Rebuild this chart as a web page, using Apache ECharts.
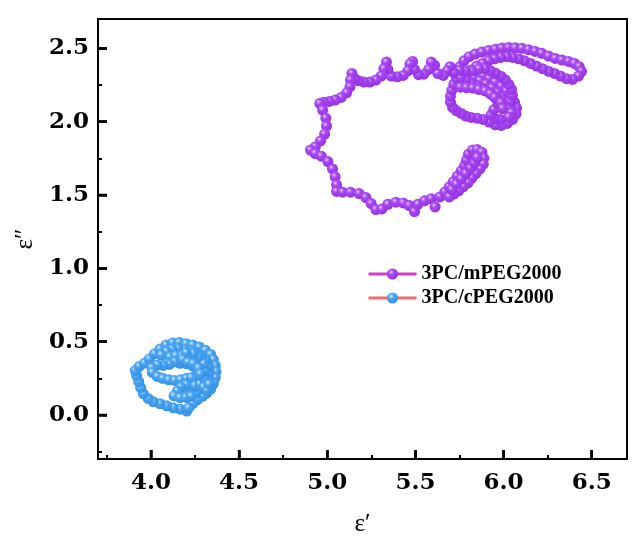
<!DOCTYPE html>
<html><head><meta charset="utf-8">
<script src="https://cdn.jsdelivr.net/npm/echarts@6/dist/echarts.min.js"></script>
<style>html,body{margin:0;padding:0;background:#fff}#c{width:640px;height:547px}</style>
</head><body><div id="c"></div>
<script>
const seriesNames = ['3PC/mPEG2000', '3PC/cPEG2000'];
const xName = 'ε′';
const yName = 'ε″';
const xRange = [3.7, 6.7];
const yRange = [-0.3, 2.7];
const xTicks = [4.0, 4.5, 5.0, 5.5, 6.0, 6.5];
const xMinorTicks = [3.75, 4.25, 4.75, 5.25, 5.75, 6.25];
const yTicks = [0.0, 0.5, 1.0, 1.5, 2.0, 2.5];
const yMinorTicks = [-0.25, 0.25, 0.75, 1.25, 1.75, 2.25];

// [ε′, ε″] for 3PC/mPEG2000
const mPEGPoints = [
[5.752,2.375],[5.775,2.415],[5.805,2.443],[5.839,2.461],[5.877,2.475],[5.915,2.486],[5.953,2.493],[5.990,2.502],[6.028,2.506],[6.066,2.504],
[6.104,2.500],[6.141,2.491],[6.179,2.479],[6.217,2.466],[6.255,2.447],[6.293,2.431],[6.331,2.420],[6.368,2.411],[6.402,2.397],[6.429,2.375],
[6.442,2.343],[6.425,2.311],[6.391,2.288],[6.357,2.293],[6.323,2.311],[6.289,2.329],[6.255,2.343],[6.221,2.361],[6.187,2.379],[6.153,2.397],
[6.119,2.415],[6.085,2.429],[6.051,2.438],[6.017,2.443],[5.983,2.438],[5.949,2.429],[5.915,2.415],[5.881,2.397],[5.847,2.379],
[5.816,2.352],[5.850,2.329],[5.884,2.311],[5.918,2.293],[5.953,2.270],[5.987,2.243],[6.017,2.211],[6.043,2.174],[6.062,2.133],[6.074,2.092],
[6.070,2.051],[6.051,2.015],[6.021,1.988],[5.987,1.974],[5.953,1.979],[5.918,1.997],[5.884,2.015],[5.850,2.024],[5.816,2.029],[5.786,2.038],
[5.760,2.056],[5.733,2.074],[5.711,2.097],[5.699,2.133],[5.699,2.174],[5.707,2.215],[5.718,2.256],[5.733,2.293],
[5.763,2.329],[5.798,2.315],[5.832,2.297],[5.866,2.279],[5.900,2.256],[5.934,2.229],[5.964,2.197],[5.990,2.161],[6.009,2.120],[6.017,2.079],
[6.005,2.038],[5.979,2.015],[5.949,2.020],[5.930,2.047],[5.945,2.083],[5.968,2.120],[5.964,2.156],[5.937,2.183],[5.907,2.206],[5.877,2.229],
[5.847,2.247],[5.816,2.265],[5.786,2.284],[5.756,2.302],
[5.755,2.235],[5.790,2.232],[5.825,2.228],[5.860,2.220],[5.895,2.210],[5.925,2.190],[5.950,2.165],[5.985,2.130],[5.995,2.090],[6.040,2.100],
[6.045,2.060],[6.030,2.030],[6.040,2.140],[6.050,2.180],[6.045,2.220],[6.030,2.255],[6.010,2.285],[5.985,2.310],[5.955,2.330],[5.925,2.348],
[5.895,2.362],[5.860,2.360],[5.820,2.345],[5.785,2.345],[5.750,2.350],
[5.718,2.334],[5.696,2.375],[5.680,2.347],[5.658,2.315],[5.627,2.329],[5.609,2.384],[5.590,2.406],[5.575,2.356],[5.548,2.324],[5.518,2.320],
[5.495,2.356],[5.484,2.411],[5.469,2.393],[5.457,2.347],[5.431,2.315],[5.397,2.306],[5.363,2.311],[5.344,2.356],[5.336,2.406],[5.321,2.361],
[5.306,2.311],[5.276,2.284],[5.242,2.270],[5.208,2.270],[5.178,2.279],[5.155,2.293],[5.140,2.329],[5.132,2.284],[5.129,2.238],[5.110,2.197],
[5.079,2.165],[5.045,2.147],[5.011,2.138],[4.981,2.133],[4.958,2.124],[4.974,2.079],[4.992,2.024],[4.996,1.970],[4.985,1.915],[4.962,1.869],
[4.932,1.828],[4.905,1.806],[4.932,1.783],[4.966,1.765],[5.004,1.728],[5.030,1.678],[5.045,1.624],[5.053,1.569],[5.053,1.524],[5.087,1.519],
[5.132,1.519],[5.181,1.510],[5.219,1.483],[5.249,1.442],[5.276,1.401],[5.310,1.405],[5.344,1.437],[5.389,1.451],[5.431,1.446],[5.465,1.428],
[5.495,1.387],[5.514,1.437],[5.552,1.460],[5.590,1.474],[5.612,1.419],[5.639,1.487],
[5.667,1.521],[5.692,1.556],[5.714,1.590],[5.737,1.628],[5.760,1.665],[5.779,1.701],[5.790,1.738],[5.801,1.778],[5.824,1.806],[5.850,1.810],
[5.877,1.792],[5.888,1.751],[5.885,1.710],[5.866,1.678],[5.843,1.646],[5.820,1.615],[5.798,1.583],[5.771,1.556],[5.745,1.528],[5.718,1.506],
[5.692,1.487],[5.707,1.537],[5.733,1.574],[5.760,1.610],[5.786,1.647],[5.813,1.683],[5.835,1.719],[5.850,1.756]
];

// [ε′, ε″] for 3PC/cPEG2000
const cPEGPoints = [
[4.203,0.027],[4.165,0.040],[4.127,0.049],[4.089,0.063],[4.052,0.077],[4.014,0.090],[3.984,0.113],[3.957,0.145],[3.942,0.186],[3.931,0.227],
[3.919,0.268],[3.912,0.304],[3.934,0.331],[3.965,0.354],[3.991,0.382],[4.021,0.418],[4.052,0.450],[4.086,0.477],[4.123,0.491],[4.161,0.495],
[4.199,0.486],[4.237,0.477],[4.275,0.463],[4.309,0.441],[4.339,0.413],[4.354,0.377],[4.365,0.336],[4.369,0.295],[4.365,0.254],[4.354,0.213],
[4.339,0.177],[4.316,0.149],[4.293,0.127],[4.263,0.104],[4.237,0.077],[4.214,0.049],
[4.255,0.150],[4.290,0.180],[4.312,0.215],[4.326,0.255],[4.331,0.295],[4.327,0.335],[4.312,0.372],[4.286,0.402],[4.256,0.424],[4.222,0.438],
[4.188,0.447],[4.154,0.452],[4.120,0.447],[4.089,0.432],[4.059,0.409],
[4.108,0.395],[4.142,0.404],[4.176,0.404],[4.210,0.395],[4.244,0.382],[4.275,0.359],[4.293,0.322],[4.297,0.281],[4.286,0.241],[4.263,0.209],
[4.237,0.186],[4.207,0.172],
[4.230,0.230],[4.255,0.265],[4.262,0.304],[4.233,0.336],[4.199,0.350],[4.165,0.352],[4.135,0.363],
[4.104,0.345],[4.070,0.338],[4.036,0.341],[4.006,0.322],[4.008,0.290],[4.036,0.263],[4.067,0.250],[4.101,0.240],[4.135,0.236],[4.169,0.240],
[4.203,0.250],[4.230,0.255],
[4.200,0.205],[4.170,0.190],[4.150,0.163],[4.131,0.131],[4.165,0.118],[4.200,0.120],[4.228,0.128],
[4.250,0.200],[4.280,0.210],[4.300,0.250],[4.305,0.300],[4.300,0.350],[4.270,0.400],[4.240,0.420],[4.200,0.425],[4.180,0.380],[4.210,0.360],
[4.240,0.350],[4.270,0.320],[4.280,0.280],[4.300,0.190],[4.320,0.170],[4.330,0.210]
];

const chart = echarts.init(document.getElementById('c'));

function bead(light, mid, base, edge) {
  return new echarts.graphic.RadialGradient(0.38, 0.34, 0.62, [
    {offset: 0, color: light}, {offset: 0.18, color: mid}, {offset: 0.45, color: base}, {offset: 1, color: edge}
  ]);
}
const purpleBead = bead('#f2e4ff', '#c27cf6', '#a545f0', '#9634e4');
const blueBead = bead('#e8f4ff', '#88c4f8', '#47a3f2', '#3892e4');

const tickFont = {fontFamily: 'DejaVu Serif', fontWeight: 'bold', fontSize: 23, color: '#000'};
const nameFont = {fontFamily: 'Liberation Serif', fontSize: 25, color: '#000'};

function tickAxis(kind, values, len) {
  return {type: 'value', gridIndex: 0, position: kind === 'x' ? 'bottom' : 'left',
    min: kind === 'x' ? xRange[0] : yRange[0], max: kind === 'x' ? xRange[1] : yRange[1],
    axisLine: {show: false, onZero: false}, axisLabel: {show: false}, splitLine: {show: false},
    axisTick: {show: true, inside: true, length: len, lineStyle: {color: '#000', width: 2}, customValues: values}};
}

// major tick marks drawn through the axis scales (value -> pixel via api.coord)
const TICK_LEN = 9;
function majorTickSeries(kind, values) {
  const data = values.map(v => kind === 'x' ? [v, yRange[0]] : [xRange[0], v]);
  return {
    type: 'custom', silent: true, clip: false, z: 10,
    data: data,
    renderItem: function (params, api) {
      const p = api.coord([api.value(0), api.value(1)]);
      const shape = kind === 'x'
        ? {x1: p[0], y1: p[1], x2: p[0], y2: p[1] - TICK_LEN}
        : {x1: p[0], y1: p[1], x2: p[0] + TICK_LEN, y2: p[1]};
      return {type: 'line', shape: shape, style: {stroke: '#000', lineWidth: 2.5}};
    }
  };
}

// tick length expressed in data units of the other axis (≈9 px)
const yTickSpan = (yRange[1] - yRange[0]) * 9 / 440;
const xTickSpan = (xRange[1] - xRange[0]) * 9 / 529;
const majorTickMarkLines = xTicks.map(v => [{coord: [v, yRange[0]]}, {coord: [v, yRange[0] + yTickSpan]}])
  .concat(yTicks.map(v => [{coord: [xRange[0], v]}, {coord: [xRange[0] + xTickSpan, v]}]));

chart.setOption({
  animation: false,
  grid: {left: 98, right: 13, top: 19, bottom: 88, show: true, borderColor: '#000', borderWidth: 2},
  legend: {
    orient: 'vertical', left: 362, top: 259, itemWidth: 48, itemHeight: 14, itemGap: 4,
    textStyle: {fontFamily: 'Liberation Serif', fontWeight: 'bold', fontSize: 20, color: '#000'},
    lineStyle: {width: 3},
    selectedMode: false,
    data: seriesNames
  },
  xAxis: [
    {type: 'value', min: xRange[0], max: xRange[1], splitNumber: 6, name: xName, nameLocation: 'middle', nameGap: 53, nameTextStyle: nameFont,
     axisLine: {show: true, onZero: false, lineStyle: {color: '#000', width: 2}},
     axisTick: {show: true, inside: true, length: TICK_LEN, lineStyle: {color: '#000', width: 2}},
     axisLabel: Object.assign({showMinLabel: false, showMaxLabel: false, margin: 13, formatter: v => Number(v).toFixed(1)}, tickFont),
     splitLine: {show: false}},
    tickAxis('x', xMinorTicks, 4)
  ],
  yAxis: [
    {type: 'value', min: yRange[0], max: yRange[1], splitNumber: 6, name: yName, nameLocation: 'middle', nameGap: 52, nameTextStyle: nameFont,
     axisLine: {show: true, onZero: false, lineStyle: {color: '#000', width: 2}},
     axisTick: {show: true, inside: true, length: TICK_LEN, lineStyle: {color: '#000', width: 2}},
     axisLabel: Object.assign({showMinLabel: false, showMaxLabel: false, margin: 9, formatter: v => Number(v).toFixed(1)}, tickFont),
     splitLine: {show: false}},
    tickAxis('y', yMinorTicks, 4)
  ],
  series: [
    majorTickSeries('x', xTicks),
    majorTickSeries('y', yTicks),
    {name: seriesNames[0], type: 'line', data: mPEGPoints, xAxisIndex: 0, yAxisIndex: 0,
     symbol: 'circle', symbolSize: 11, showSymbol: true, showAllSymbol: true,
     lineStyle: {color: '#d63dc8', width: 1}, itemStyle: {color: purpleBead, borderWidth: 0},
     emphasis: {disabled: true}},
    {name: seriesNames[1], type: 'line', data: cPEGPoints, xAxisIndex: 0, yAxisIndex: 0,
     symbol: 'circle', symbolSize: 11, showSymbol: true, showAllSymbol: true,
     lineStyle: {color: '#f06b6b', width: 1}, itemStyle: {color: blueBead, borderWidth: 0},
     emphasis: {disabled: true},
     markLine: {silent: true, symbol: ['none', 'none'], label: {show: false},
       lineStyle: {color: '#000', width: 2.5, type: 'solid'}, emphasis: {disabled: true},
       data: majorTickMarkLines}}
  ]
});
</script>
</body></html>
